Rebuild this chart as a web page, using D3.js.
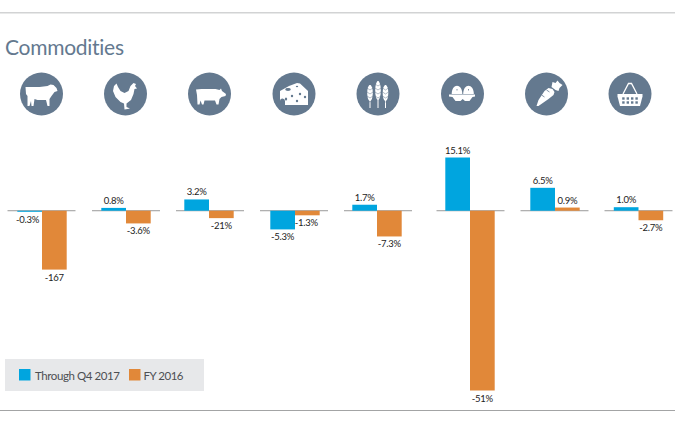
<!DOCTYPE html>
<html><head><meta charset="utf-8">
<script src="https://cdn.jsdelivr.net/npm/d3@7/dist/d3.min.js"></script>
<style>html,body{margin:0;padding:0;background:#fff}svg{display:block}text{font-family:"Lato",sans-serif;font-variant-ligatures:none}</style>
</head><body><div id="c"></div>
<script>
const categories = ["Beef","Chicken","Pork","Dairy","Grains","Eggs","Produce","Basket"];
const throughQ4 = [-0.3,0.8,3.2,-5.3,1.7,15.1,6.5,1.0];
const fy2016 = [-16.7,-3.6,-2.1,-1.3,-7.3,-51,0.9,-2.7];
const throughLabels = ["-0.3%","0.8%","3.2%","-5.3%","1.7%","15.1%","6.5%","1.0%"];
const fyLabels = ["-167","-3.6%","-21%","-1.3%","-7.3%","-51%","0.9%","-2.7%"];
const legendNames = ["Through Q4 2017","FY 2016"];

const W=675,H=424;
const svg=d3.select("#c").append("svg").attr("width",W).attr("height",H);
const blue="#00a5df",orange="#e18839",slate="#64798f";
const y=d3.scaleLinear().domain([-51,15.1]).range([390.5,157.5]);
const barX=d3.scaleOrdinal().domain(categories).range([42,126,209,295,377,470,555,638.5]);
const lineX=d3.scaleOrdinal().domain(categories).range([41.5,126,210,294,378,470.5,554.5,638.5]);
const iconX=d3.scaleOrdinal().domain(categories).range([41.5,125.5,209.5,294,378,462.5,546.5,630]);
const bw=24.7;

svg.append("rect").attr("x",0).attr("y",12).attr("width",W).attr("height",1.5).attr("fill","#d2d3d4");
svg.append("rect").attr("x",0).attr("y",410).attr("width",W).attr("height",1).attr("fill","#a3a4a5");
svg.append("text").attr("x",5).attr("y",55).attr("font-size",21).attr("fill",slate).attr("textLength",119).text("Commodities");

const icons={
 Beef:'M-16,-7 L-2,-7 L6,-8 L9,-9.5 L12,-9 L15,-6 L16,-3 L13,-2 L10,2 L8,5 L8,12 L6,12 L4.5,6 L-4,6 L-7,5 L-8,12 L-10,12 L-10.5,7 L-12,12 L-14,12 L-14,2 L-15.5,0 Z',
 Chicken:'M8,-11 L10.5,-10 L9.5,-8 L11.5,-5.5 L9,-5 L8,0 L5.5,6 L1,9.5 L1,13 L4.5,14.5 L2,15 L-1,15.5 L-1.5,9.5 L-5,8 L-10,3 L-12.5,-3 L-11.5,-8 L-9,-10.5 L-7.5,-7 L-5,-3 L-1,-1 L3,-3 L5,-8 Z',
 Pork:'M-13.5,-4.5 L-8,-5 L6,-5 L10,-4 L11.5,-5.5 L12.5,-3 L16.5,0 L16,2 L12,3 L10,5 L9,10.5 L7,10.5 L5.5,6.5 L-5,6.5 L-6,10.5 L-7.5,10.5 L-9,6.5 L-10,10.5 L-12,10.5 L-12.5,1 Z',
 Dairy:'M-14,-3 L-5,-8 L3,-11 L6,-10.5 L14,-3 L14,11 L-14,11 Z',
 Produce:'M-10,12 L-8,6 L-2,-3 L2,-6 L6,-5 L8,-2 L7,1 L2,5 L-8,12 Z M5,-7 L6,-12 L9,-11 L11,-13.5 L13,-11 L16,-9 L13,-6 L12,-3 L9,-4 Z',
 Basket:'M-12.5,0 L12.5,0 L12.5,2.5 L10,12 L-10,12 L-12.5,2.5 Z'
};
const iy=94,ir=21.5;
categories.forEach(c=>{
  const g=svg.append("g").attr("transform",`translate(${iconX(c)},${iy})`);
  g.append("circle").attr("r",ir).attr("fill",slate);
  if(icons[c]) g.append("path").attr("d",icons[c]).attr("fill","#fff");
  if(c==="Dairy"){
    [[-6,-4.5,2.8,1.4],[3,-7.5,1.2,.8],[-8,5,1.2,1.6],[-2,2,1.2,1.2],[3,7,1.2,1.2],[6,0,1.2,1.2],[11,3,1.2,1.2]].forEach(d=>g.append("ellipse").attr("cx",d[0]).attr("cy",d[1]).attr("rx",d[2]).attr("ry",d[3]).attr("fill",slate));
    g.append("path").attr("d","M-14,11 L-14,7 A2.5,2.5 0 0 1 -9,7 L-9,11 Z").attr("fill",slate);
  }
  if(c==="Grains"){
    [[-8,-9,8],[0,-13,9.5],[7.5,-9,8]].forEach(([x,t,r])=>{
      g.append("line").attr("x1",x).attr("x2",x).attr("y1",t).attr("y2",14).attr("stroke","#fff").attr("stroke-width",1);
      g.append("ellipse").attr("cx",x).attr("cy",t+r).attr("rx",2.8).attr("ry",r).attr("fill","#fff");
      d3.range(0,4).forEach(i=>g.append("path").attr("d",`M${x-3},${t+3+i*4} L${x},${t+5+i*4} L${x+3},${t+3+i*4}`).attr("stroke",slate).attr("stroke-width",.5).attr("fill","none"));
    });
  }
  if(c==="Eggs"){
    [-5.5,6].forEach(x=>{
      g.append("path").attr("d",`M${x-5.3},0 C${x-5.3},-11 ${x+5.3},-11 ${x+5.3},0 Z`).attr("fill","#fff");
      g.append("path").attr("d",`M${x},-5 v1.5`).attr("stroke",slate).attr("stroke-width",.8);
    });
    g.append("path").attr("d","M-13.5,0.5 L12.5,0.5 L12.5,2.5 L10,3 L7,7 L2.5,7 L0.2,5 L-2,7 L-7,7 L-10,3 L-13.5,2.5 Z").attr("fill","#fff");
  }
  if(c==="Produce"){
    g.append("path").attr("d","M-5,1 L-2,3 M0,-4 L3,-2").attr("stroke",slate).attr("stroke-width",.8);
  }
  if(c==="Basket"){
    g.append("path").attr("d","M-7,0 L-1.5,-10.5 L1.5,-10.5 L7,0").attr("fill","none").attr("stroke","#fff").attr("stroke-width",1.3);
    [-6.6,-2.2,2.2,6.6].forEach(x=>[4.5,8.5].forEach(yy=>g.append("rect").attr("x",x-1.2).attr("y",yy-1.2).attr("width",2.4).attr("height",2.4).attr("fill",slate)));
  }
});

svg.append("g").selectAll("rect").data(categories).join("rect")
  .attr("x",d=>lineX(d)-34).attr("width",68).attr("y",y(0)-.5).attr("height",1).attr("fill","#9a9a9a");

const drawBars=(vals,side,col)=>svg.append("g").selectAll("rect").data(categories).join("rect")
  .attr("x",(d)=>side<0?barX(d)-bw:barX(d)).attr("width",bw)
  .attr("y",(d,i)=>Math.min(y(0),y(vals[i])))
  .attr("height",(d,i)=>Math.abs(y(vals[i])-y(0))).attr("fill",col);
drawBars(throughQ4,-1,blue);
drawBars(fy2016,1,orange);

const labels=(vals,txt,side,shift)=>svg.append("g").selectAll("text").data(categories).join("text")
  .attr("x",(d,i)=>barX(d)+side*bw/2+shift[i])
  .attr("y",(d,i)=>vals[i]>=0?y(vals[i])-4:y(vals[i])+11)
  .attr("text-anchor","middle").attr("font-size",9.5).attr("letter-spacing",-0.25).attr("fill","#222")
  .text((d,i)=>txt[i]);
labels(throughQ4,throughLabels,-1,[-2,0,0,0,0,0,0,0]);
labels(fy2016,fyLabels,1,[0,0,0,-1,0,0,0,0]);

svg.append("rect").attr("x",5).attr("y",359).attr("width",199).attr("height",32).attr("fill","#e7e8ea");
const lg=svg.append("g");
[[19,35,blue,85],[129,143.5,orange,40]].forEach((p,i)=>{
  lg.append("rect").attr("x",p[0]).attr("y",369).attr("width",11.5).attr("height",11.5).attr("fill",p[2]);
  lg.append("text").attr("x",p[1]).attr("y",380).attr("font-size",11.5).attr("textLength",p[3]).attr("fill","#4d4f53").text(legendNames[i]);
});
</script></body></html>
